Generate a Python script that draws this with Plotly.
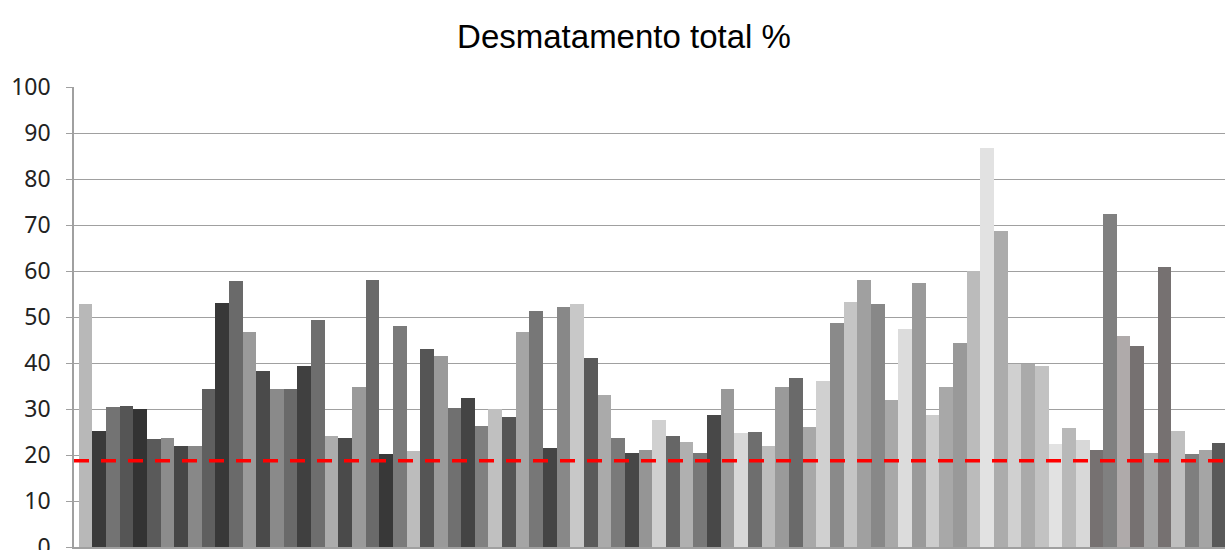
import plotly.graph_objects as go

# ---- data ----
categorias = [str(i) for i in range(1, 85)]
desmatamento = [
    52.8, 25.2, 30.4, 30.7, 30.1, 23.5, 23.8, 22.0, 22.0, 34.4,
    53.1, 57.8, 46.7, 38.3, 34.4, 34.4, 39.4, 49.4, 24.1, 23.8,
    34.7, 58.1, 20.2, 48.1, 20.9, 43.0, 41.6, 30.2, 32.5, 26.4,
    29.9, 28.3, 46.7, 51.2, 21.6, 52.2, 52.8, 41.0, 33.0, 23.8,
    20.4, 21.0, 27.7, 24.1, 22.8, 20.4, 28.8, 34.4, 24.8, 24.9,
    21.9, 34.8, 36.7, 26.1, 36.0, 48.6, 53.3, 58.1, 52.8, 31.9,
    47.5, 57.3, 28.8, 34.7, 44.4, 60.0, 86.7, 68.8, 39.7, 39.7,
    39.4, 22.3, 25.8, 23.2, 21.0, 72.3, 45.8, 43.8, 20.4, 60.9,
    25.2, 20.2, 21.0, 22.6,
]
media_referencia = 18.75
y_ticks = [0, 10, 20, 30, 40, 50, 60, 70, 80, 90, 100]

# ---- styles ----
bar_colors = [
    "#b8b8b8", "#3a3a3a", "#737373", "#555555", "#333333", "#5a5a5a", "#8c8c8c", "#464646", "#888888", "#5f5f5f",
    "#383838", "#6a6a6a", "#9a9a9a", "#4a4a4a", "#8a8a8a", "#6a6a6a", "#404040", "#6e6e6e", "#acacac", "#4a4a4a",
    "#9a9a9a", "#6a6a6a", "#383838", "#7a7a7a", "#bcbcbc", "#555555", "#9a9a9a", "#707070", "#444444", "#808080",
    "#c0c0c0", "#555555", "#a5a5a5", "#777777", "#444444", "#888888", "#c8c8c8", "#5a5a5a", "#aaaaaa", "#7a7a7a",
    "#474747", "#959595", "#d0d0d0", "#666666", "#b0b0b0", "#787878", "#484848", "#999999", "#d8d8d8", "#6e6e6e",
    "#bdbdbd", "#9a9a9a", "#6a6a6a", "#a8a8a8", "#d0d0d0", "#8a8a8a", "#c5c5c5", "#a0a0a0", "#888888", "#a8a8a8",
    "#dcdcdc", "#9a9a9a", "#cccccc", "#a8a8a8", "#999999", "#bbbbbb", "#e2e2e2", "#acacac", "#d0d0d0", "#aaaaaa",
    "#c2c2c2", "#e2e2e2", "#b8b8b8", "#d8d8d8", "#767171", "#808080", "#afaaaa", "#767171", "#a5a5a5", "#767171",
    "#bfbfbf", "#7f7f7f", "#a5a5a5", "#595959",
]

fig = go.Figure()
fig.add_trace(go.Bar(
    x=categorias,
    y=desmatamento,
    marker=dict(color=bar_colors, line=dict(width=0)),
    width=1.0,
    showlegend=False,
    hoverinfo="y",
))

fig.add_shape(
    type="line", xref="paper", yref="y",
    x0=0, x1=1, y0=media_referencia, y1=media_referencia,
    line=dict(color="#ff0000", width=3.5, dash="15px,12px"),
    layer="above",
)

fig.update_layout(
    width=1225, height=550,
    margin=dict(l=74, r=0, t=87, b=3, pad=0, autoexpand=False),
    paper_bgcolor="white", plot_bgcolor="white",
    bargap=0,
    title=dict(
        text="Desmatamento total %",
        x=624 / 1225, xref="container", xanchor="center",
        y=1 - 36 / 550, yref="container", yanchor="middle",
        font=dict(family="Liberation Sans, Arial, sans-serif", size=33, color="#000000"),
    ),
    xaxis=dict(
        type="category",
        range=[-0.844, 83.42],
        showticklabels=False, ticks="",
        showgrid=False, zeroline=False,
        showline=True, linecolor="#a0a0a0", linewidth=1.5,
        automargin=False,
    ),
    yaxis=dict(
        range=[0, 100],
        tickvals=y_ticks,
        ticks="outside", ticklen=6, tickcolor="#a0a0a0", tickwidth=1,
        showgrid=True, gridcolor="#a0a0a0", gridwidth=1.3,
        zeroline=False,
        showline=True, linecolor="#a0a0a0", linewidth=1.5,
        tickfont=dict(family="Noto Sans, Open Sans, sans-serif", size=23, color="#222222"),
        ticklabelstandoff=11,
        ticklabeloverflow="allow",
        automargin=False,
    ),
)

fig.write_html("out.html")
